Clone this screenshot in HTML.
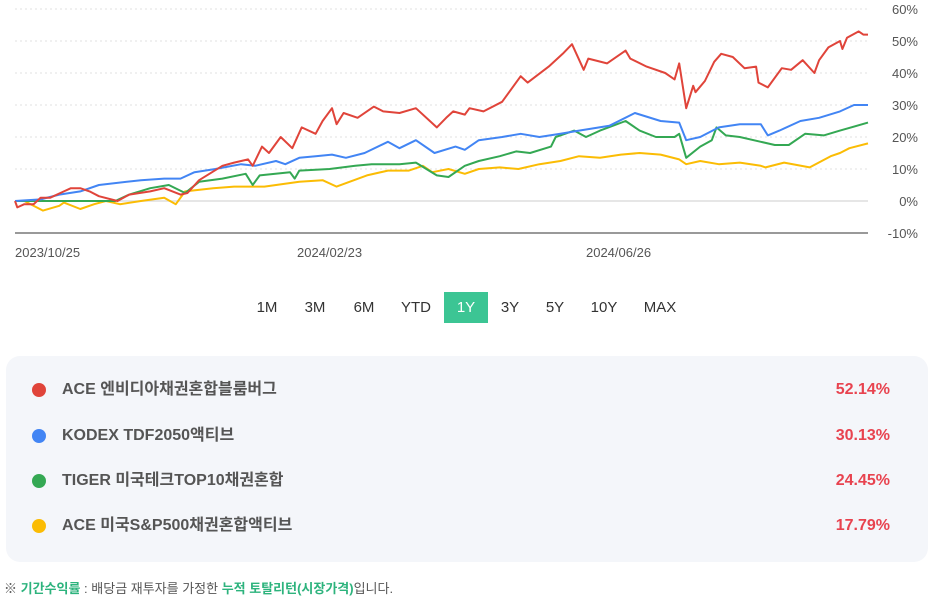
<!DOCTYPE html>
<html><head><meta charset="utf-8"><style>
body{margin:0;width:932px;height:603px;background:#fff;font-family:"Liberation Sans","Noto Sans CJK KR",sans-serif;position:relative;overflow:hidden}
.btn{position:absolute;top:292px;height:31px;line-height:31px;font-size:15px;color:#333;text-align:center;width:44px}
.btn.on{background:#3cc594;color:#fff}
#panel{position:absolute;left:6px;top:356px;width:922px;height:206px;background:#f4f6fa;border-radius:14px}
.row{position:absolute;left:0;width:922px;height:24px}
.dot{position:absolute;left:26px;top:5px;width:14px;height:14px;border-radius:50%}
.nm{position:absolute;left:56px;top:0;font-size:16px;font-weight:bold;color:#555;line-height:24px}
.vl{position:absolute;right:38px;top:0;font-size:16px;font-weight:bold;color:#e8434f;line-height:24px}
#note{position:absolute;left:4px;top:578px;font-size:13px;color:#555}
#note b{color:#2db37d}
</style></head><body>
<svg id="chart" width="932" height="270" style="position:absolute;left:0;top:0"></svg>
<div>
<div class="btn" style="left:245px">1M</div>
<div class="btn" style="left:293px">3M</div>
<div class="btn" style="left:342px">6M</div>
<div class="btn" style="left:394px">YTD</div>
<div class="btn on" style="left:444px">1Y</div>
<div class="btn" style="left:488px">3Y</div>
<div class="btn" style="left:533px">5Y</div>
<div class="btn" style="left:582px">10Y</div>
<div class="btn" style="left:638px">MAX</div>
</div>
<div id="panel">
<div class="row" style="top:22px"><div class="dot" style="background:#e0443a"></div><div class="nm">ACE 엔비디아채권혼합블룸버그</div><div class="vl">52.14%</div></div>
<div class="row" style="top:68px"><div class="dot" style="background:#4285f4"></div><div class="nm">KODEX TDF2050액티브</div><div class="vl">30.13%</div></div>
<div class="row" style="top:113px"><div class="dot" style="background:#34a853"></div><div class="nm">TIGER 미국테크TOP10채권혼합</div><div class="vl">24.45%</div></div>
<div class="row" style="top:158px"><div class="dot" style="background:#fbbc04"></div><div class="nm">ACE 미국S&amp;P500채권혼합액티브</div><div class="vl">17.79%</div></div>
</div>
<div id="note">※ <b>기간수익률</b> : 배당금 재투자를 가정한 <b>누적 토탈리턴(시장가격)</b>입니다.</div>
<script>
const yTicks=[60,50,40,30,20,10,0,-10];
const xTickDays=[0,121,245];
const xTickLabels=["2023/10/25","2024/02/23","2024/06/26"];
const redDays=[0,1,4,8,11,15,21,24,28,32,36,44,49,58,64,71,74,79,89,94,100,102,106,109,114,119,123,129,132,136,138,141,147,154,158,165,172,181,185,188,193,195,201,209,217,220,229,235,239,244,246,254,262,264,271,279,283,285,288,291,292,296,300,303,308,313,318,319,323,329,333,338,343,345,349,354,355,357,362,364,366];
const redVals=[0,-2,-1,-1,1,1,3,4,4,3,1.5,0,2,3,4,2,2.5,6.5,11,12,13,11,17,15,20,16.5,23,21,25,29,24,27.5,26,29.5,28,27.5,29,23,26,28,27,29,28,31,39,37,42,46,49,41,44.5,43,47,44.5,42,40,38,43,29,36,34,37.5,43.5,46,45,41.5,42,37,35.5,41.5,41,44,40,44,48,50,47.5,51,53,52,52];
const blueDays=[0,11,19,28,36,54,64,71,77,86,97,103,112,116,122,129,136,142,150,160,165,172,180,189,193,199,209,217,225,234,242,255,266,277,285,288,294,302,311,320,323,328,337,345,354,360,366];
const blueVals=[0,0.5,2,3,5,6.5,7,7,9,10,11.5,11,12.5,11.5,13.5,14,14.5,13.5,15,18.5,16.5,19,15,17,16,19,20,21,20,21,22,23.5,27.5,25,24.5,19,20,23,24,24,20.5,22,25,26,28,30,30];
const greenDays=[0,43,49,58,66,73,79,89,99,102,105,118,120,122,135,146,153,165,172,181,186,193,199,208,215,221,230,232,240,245,251,262,268,275,283,285,288,294,299,301,305,311,320,326,332,339,347,354,366];
const greenVals=[0,0,2,4,5,2.5,6,7,8.5,5,8,9,7,9.5,10,11,11.5,11.5,12,8,7.5,11,12.5,14,15.5,15,17,20,22,20,22,25,22,20,20,21,13.5,17,19,23,20.5,20,18.5,17.5,17.5,21,20.5,22,24.5];
const yellowDays=[0,4,12,19,21,28,34,39,45,54,64,69,73,85,94,107,122,132,138,151,160,169,175,179,186,193,199,208,216,225,234,242,251,260,268,277,285,288,294,302,311,320,322,330,341,350,354,358,366];
const yellowVals=[0,0,-3,-1.5,-0.5,-2.5,-1,0,-1,0,1,-1,3,4,4.5,4.5,6,6.5,4.5,8,9.5,9.5,11,9,10,8.5,10,10.5,10,11.5,12.5,14,13.5,14.5,15,14.5,13,11.5,12.5,11.5,12,11,10.5,12,10.5,14,15,16.5,18];
const NS='http://www.w3.org/2000/svg';
const svg=document.getElementById('chart');
const X0=15,X1=868,DMAX=366;
const xs=d=>X0+(X1-X0)*d/DMAX;
const ys=v=>201-v*3.2;
function mk(t,a){const e=document.createElementNS(NS,t);for(const k in a)e.setAttribute(k,a[k]);svg.appendChild(e);return e;}
yTicks.forEach(v=>{
  const y=ys(v);
  let st=v===0?{stroke:'#ddd','stroke-width':1.5}:v===-10?{stroke:'#999','stroke-width':2}:{stroke:'#e2e2e2','stroke-width':1,'stroke-dasharray':'2,3'};
  const l=mk('line',Object.assign({x1:X0,x2:X1,y1:y,y2:y},st));
  
  
  const t=mk('text',{x:918,y:y+5,'text-anchor':'end','font-size':13,fill:'#555','font-family':'Liberation Sans, sans-serif'});
  t.textContent=v+'%';
  
  
});
xTickDays.forEach((d,i)=>{
  const t=mk('text',{x:xs(d),y:257,'font-size':13,fill:'#555','font-family':'Liberation Sans, sans-serif'});
  t.textContent=xTickLabels[i];
  
  
});
function series(days,vals,color,name){
  const pts=days.map((d,i)=>xs(d).toFixed(1)+','+ys(vals[i]).toFixed(1)).join(' ');
  const p=mk('polyline',{points:pts,fill:'none',stroke:color,'stroke-width':2,'stroke-linejoin':'round'});
  
  
}
series(yellowDays,yellowVals,'#fbbc04','line-ace-sp500');
series(greenDays,greenVals,'#34a853','line-tiger-tech-top10');
series(blueDays,blueVals,'#4285f4','line-kodex-tdf2050');
series(redDays,redVals,'#e0443a','line-ace-nvidia');
</script>
</body></html>
